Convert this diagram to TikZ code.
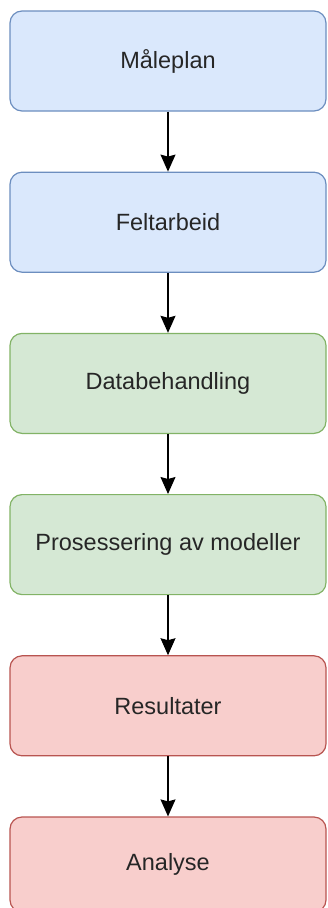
\documentclass[tikz,border=0pt]{standalone}
\usepackage{fontspec}
\setmainfont{Liberation Sans}
\usetikzlibrary{positioning,arrows.meta}
\definecolor{bluefill}{HTML}{DAE8FC}\definecolor{blueline}{HTML}{6C8EBF}
\definecolor{greenfill}{HTML}{D5E8D4}\definecolor{greenline}{HTML}{82B366}
\definecolor{redfill}{HTML}{F8CECC}\definecolor{redline}{HTML}{B85450}
\tikzset{stage/.style={rounded corners=12pt,line width=1.2pt,minimum width=316pt,
  minimum height=100pt,inner sep=0pt,text=black!85,font=\fontsize{23.5}{28}\selectfont},
  flow/.style={line width=1.2pt,-{Stealth[length=17pt,width=15pt,inset=2pt]}}}
\begin{document}
\begin{tikzpicture}[x=1pt,y=1pt]
\useasboundingbox (0,0) rectangle (328,-908);
\node[stage,fill=bluefill,draw=blueline] (plan) at (168,-61) {Måleplan};
\node[stage,fill=bluefill,draw=blueline,below=60pt of plan] (felt) {Feltarbeid};
\node[stage,fill=greenfill,draw=greenline,below=60pt of felt] (data) {Databehandling};
\node[stage,fill=greenfill,draw=greenline,below=60pt of data] (modell) {Prosessering av modeller};
\node[stage,fill=redfill,draw=redline,below=60pt of modell] (res) {Resultater};
\node[stage,fill=redfill,draw=redline,minimum height=95pt,below=60pt of res] (ana) {Analyse};
\foreach \a/\b in {plan/felt,felt/data,data/modell,modell/res,res/ana}
  \draw[flow] (\a) -- (\b);
\end{tikzpicture}
\end{document}
